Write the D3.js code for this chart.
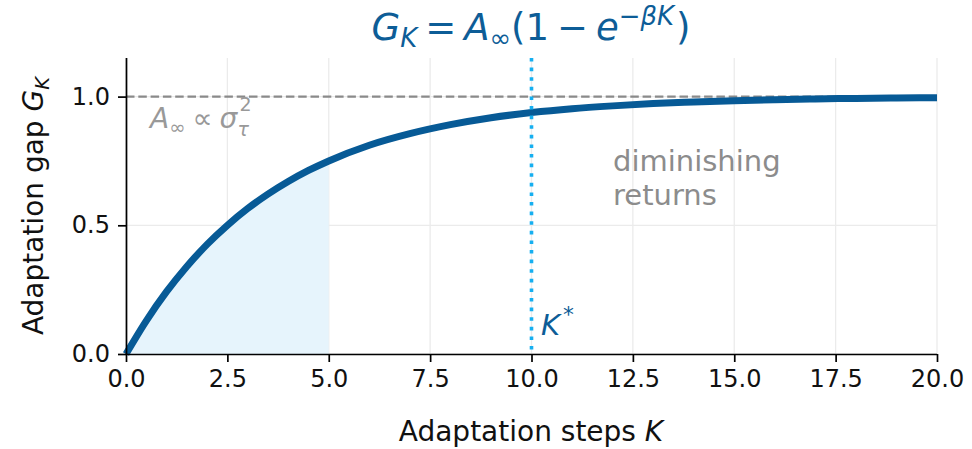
<!DOCTYPE html>
<html><head><meta charset="utf-8">
<script src="https://cdn.jsdelivr.net/npm/d3@7"></script>
<style>body{margin:0;background:#fff}svg{display:block;font-family:"DejaVu Sans",sans-serif}</style>
</head><body><svg id="c" width="972" height="449"></svg>
<script>
// Values
const steps = [0,0.5,1,1.5,2,2.5,3,3.5,4,4.5,5,6,7,8,9,10,11,12,13,14,15,16,17,18,19,20];
const gap   = [0,0.129,0.242,0.340,0.426,0.500,0.565,0.621,0.670,0.713,0.750,0.811,0.856,0.891,0.918,0.938,0.953,0.964,0.973,0.979,0.984,0.988,0.991,0.993,0.995,0.996];
const xTicks = [0,2.5,5,7.5,10,12.5,15,17.5,20];
const yTicks = [0,0.5,1.0];
const asymptote = 1.0;
const kStar = 10;
const shadeEnd = 5;

const svg = d3.select("#c");
const L=126,R=937,T=58,B=354;
const x = d3.scaleLinear().domain([0,20]).range([L,R]);
const y = d3.scaleLinear().domain([0,1.15]).range([B,T]);
const data = steps.map((k,i)=>({k, g:gap[i]}));

// grid
svg.append("g").selectAll("line").data(xTicks).join("line")
  .attr("x1",d=>x(d)).attr("x2",d=>x(d)).attr("y1",T).attr("y2",B)
  .attr("stroke","#ebebeb").attr("stroke-width",1.3);
svg.append("g").selectAll("line").data(yTicks).join("line")
  .attr("x1",L).attr("x2",R).attr("y1",d=>y(d)).attr("y2",d=>y(d))
  .attr("stroke","#ebebeb").attr("stroke-width",1.3);

// shaded area
const area = d3.area().x(d=>x(d.k)).y0(y(0)).y1(d=>y(d.g)).curve(d3.curveMonotoneX);
svg.append("path").datum(data.filter(d=>d.k<=shadeEnd)).attr("d",area)
  .attr("fill","#e6f4fc");

// asymptote
svg.append("line").attr("x1",L).attr("x2",R).attr("y1",y(asymptote)).attr("y2",y(asymptote))
  .attr("stroke","#8a8a8a").attr("stroke-width",2.4).attr("stroke-dasharray","8.5,3.8");

// curve
const line = d3.line().x(d=>x(d.k)).y(d=>y(d.g)).curve(d3.curveMonotoneX);
svg.append("path").datum(data).attr("d",line).attr("fill","none")
  .attr("stroke","#075a96").attr("stroke-width",7);

// K* line
svg.append("line").attr("x1",x(kStar)).attr("x2",x(kStar)).attr("y1",T).attr("y2",B)
  .attr("stroke","#16aff0").attr("stroke-width",3.6).attr("stroke-dasharray","3.6,6");

// axes
const xa = svg.append("g").attr("transform",`translate(0,${B})`)
  .call(d3.axisBottom(x).tickValues(xTicks).tickFormat(d3.format(".1f")).tickSizeOuter(0).tickSize(8).tickPadding(8));
const ya = svg.append("g").attr("transform",`translate(${L},0)`)
  .call(d3.axisLeft(y).tickValues(yTicks).tickFormat(d3.format(".1f")).tickSizeOuter(0).tickSize(8).tickPadding(8));
[xa,ya].forEach(a=>{
  a.select(".domain").attr("stroke","#000").attr("stroke-width",1.7);
  a.selectAll(".tick line").attr("stroke","#000").attr("stroke-width",1.7);
  a.selectAll(".tick text").attr("font-size",24).attr("fill","#111").attr("font-family","DejaVu Sans");
});
xa.select(".domain").attr("d",`M${L},0.5H${R}`);
ya.select(".domain").attr("d",`M0.5,${B}V${T}`);

// mathtext helper
function mtext(sel, parts, size){
  parts.forEach(p=>{
    const s = sel.append("tspan").text(p.t)
      .attr("font-size", size*(p.scale||1))
      .attr("font-style", p.it?"italic":"normal");
    if(p.dy) s.attr("dy", p.dy);
    if(p.dx) s.attr("dx", p.dx);
  });
}

// title
const ts=37;
const title = svg.append("text").attr("x",531).attr("y",40).attr("text-anchor","middle").attr("fill","#0d5d97");
mtext(title,[
  {t:"G",it:true},{t:"K",it:true,scale:0.7,dy:7},{t:"=",dy:-7,dx:8},{t:"A",it:true,dx:8},
  {t:"∞",scale:0.7,dy:7},{t:"(1",dy:-7},{t:"−",dx:8},{t:"e",it:true,dx:8},
  {t:"−",scale:0.7,dy:-15},{t:"βK",it:true,scale:0.7},{t:")",dy:15,dx:2}
],ts);

// axis labels
const xl = svg.append("text").attr("x",531).attr("y",441).attr("text-anchor","middle").attr("fill","#111");
mtext(xl,[{t:"Adaptation steps "},{t:"K",it:true}],28);
const yl = svg.append("text").attr("transform","translate(43,206) rotate(-90)").attr("text-anchor","middle").attr("fill","#111");
mtext(yl,[{t:"Adaptation gap "},{t:"G",it:true},{t:"K",it:true,scale:0.7,dy:6}],28);

// annotation A∞ ∝ σ²τ
const an = svg.append("text").attr("x",150).attr("y",128).attr("fill","#999");
mtext(an,[{t:"A",it:true},{t:"∞",scale:0.7,dy:6},{t:"∝",dy:-6,dx:7},{t:"σ",it:true,dx:7}],28);
const bb = an.node().getBBox();
const anR = bb.x + bb.width;
svg.append("text").attr("x",anR+1).attr("y",111).attr("fill","#999").attr("font-size",19).text("2");
svg.append("text").attr("x",anR-1).attr("y",136).attr("fill","#999").attr("font-size",19).attr("font-style","italic").text("τ");

svg.append("text").attr("x",613).attr("y",171).attr("fill","#8c8c8c").attr("font-size",29).text("diminishing");
svg.append("text").attr("x",613).attr("y",205).attr("fill","#8c8c8c").attr("font-size",29).text("returns");

const ks = svg.append("text").attr("x",541).attr("y",335).attr("fill","#0d5d97");
mtext(ks,[{t:"K",it:true},{t:"*",scale:0.75,dy:-13,dx:3}],29);
</script></body></html>
